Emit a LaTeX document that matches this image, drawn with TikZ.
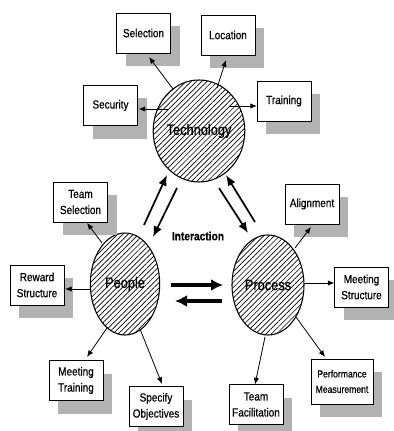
\documentclass[tikz,border=0pt]{standalone}
\usepackage{fontspec}
\setmainfont{Liberation Sans}[FakeStretch=0.85,FakeBold=0.5]
\usetikzlibrary{shapes.geometric,shadows,patterns.meta,calc,arrows.meta}
\begin{document}
\begin{tikzpicture}[x=0.75pt,y=-0.75pt,
  box/.style={draw=black, line width=0.6pt, fill=white, align=center,
    minimum width=40.5pt, minimum height=30pt, inner sep=1pt,
    font=\fontsize{8.8}{12}\selectfont,
    drop shadow={shadow xshift=6.75pt, shadow yshift=-9.75pt, fill=gray!60, opacity=1, draw=none}},
  hub/.style={ellipse, draw=black, line width=0.8pt,
    pattern={Lines[angle=45,distance=2.8pt,line width=0.5pt]},
    minimum width=52pt, minimum height=76.5pt, inner sep=0pt,
    font=\fontsize{11.3}{12}\selectfont},
  arr/.style={line width=0.6pt, -{Latex[length=5pt,width=4pt]}},
  iarr/.style={line width=1.3pt, -{Latex[length=8pt,width=6.5pt]}},
  harr/.style={line width=2.3pt, -{Latex[length=9pt,width=9pt]}}]
\useasboundingbox (0,0) rectangle (393,431);

% hubs
\node[hub, minimum width=51pt] (tech) at (199,131) {Technology};
\node[hub] (people) at (125,284) {People};
\node[hub, minimum width=54pt, minimum height=75pt] (proc) at (268,285) {Process};

% boxes
\node[box] (sel) at (143.5,33) {Selection};
\node[box] (loc) at (228,35) {Location};
\node[box] (sec) at (110.5,105.5) {Security};
\node[box] (trn) at (284,101) {Training};
\node[box] (tsel) at (80.5,202) {Team\\Selection};
\node[box] (rew) at (37,285) {Reward\\Structure};
\node[box] (mtr) at (76,380.5) {Meeting\\Training};
\node[box] (spec) at (156,406.5) {Specify\\Objectives};
\node[box] (ali) at (312,204) {Alignment};
\node[box] (mst) at (361.5,287) {Meeting\\Structure};
\node[box, minimum width=46.5pt, minimum height=33.75pt, font=\fontsize{7.6}{11.5}\selectfont] (perf) at (342,381.5) {Performance\\Measurement};
\node[box] (tfac) at (256,404.5) {Team\\Facilitation};

\node[font=\bfseries\fontsize{9}{10}\selectfont] (inter) at (198,236) {Interaction};

% technology arrows
\draw[arr] ($(tech)+(-26,-42)$) -- ($(sel)+(5.5,24)$);
\draw[arr] ($(tech)+(-31,-22)$) -- ($(sec)+(28,3.5)$);
\draw[arr] ($(tech)+(18,-43)$) -- ($(loc)+(-2,25)$);
\draw[arr] ($(tech)+(30,-25)$) -- ($(trn)+(-27,5)$);

% people arrows
\draw[arr] ($(people)+(-23,-41)$) -- ($(tsel)+(6.5,21)$);
\draw[arr] ($(people)+(-35,5)$) -- ($(rew)+(28,4)$);
\draw[arr] ($(people)+(-18,44)$) -- ($(mtr)+(11,-23.5)$);
\draw[arr] ($(people)+(15,45)$) -- ($(spec)+(6,-22.5)$);

% process arrows
\draw[arr] ($(proc)+(27,-37)$) -- ($(ali)+(-1,23)$);
\draw[arr] ($(proc)+(36,-2)$) -- ($(mst)+(-27,-4)$);
\draw[arr] ($(proc)+(28,32)$) -- ($(perf)+(-17,-24.5)$);
\draw[arr] ($(proc)+(-3,52)$) -- ($(tfac)+(-1,-20)$);

% interaction arrows
\draw[iarr] ($(people)+(19,-59)$) -- ($(tech)+(-32,44)$);
\draw[iarr] ($(tech)+(-22,57)$) -- ($(people)+(28,-47)$);
\draw[iarr] ($(tech)+(20,57)$) -- ($(proc)+(-20,-52)$);
\draw[iarr] ($(proc)+(-13,-63)$) -- ($(tech)+(27,44)$);
\draw[harr] ($(people)+(46,1)$) -- ($(proc)+(-45,0)$);
\draw[harr] ($(proc)+(-46,16)$) -- ($(people)+(50,17)$);
\end{tikzpicture}
\end{document}
